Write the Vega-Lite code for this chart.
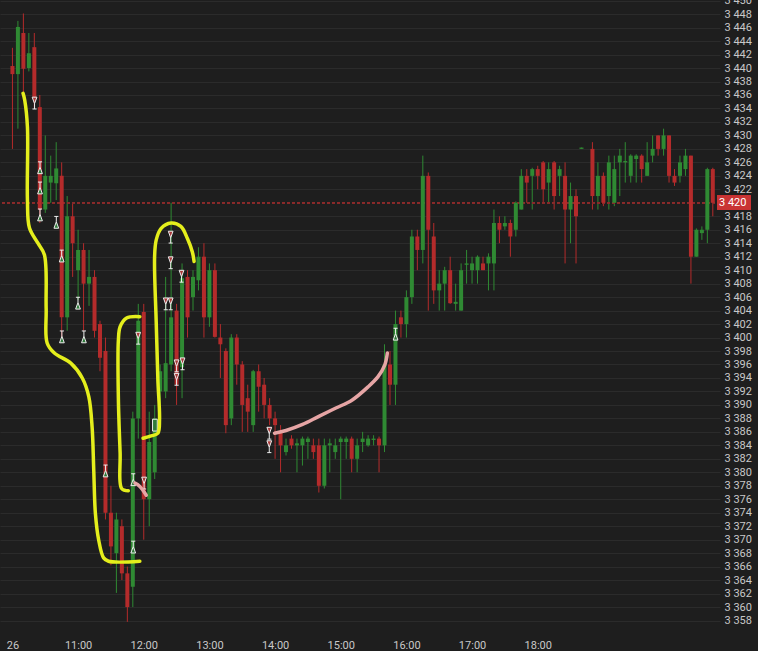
{
  "$schema": "https://vega.github.io/schema/vega-lite/v6.json",
  "width": 720,
  "height": 634,
  "autosize": {"type": "none"},
  "padding": {"left": 0, "top": 0, "right": 38, "bottom": 17},
  "background": "#1e1e1e",
  "config": {
    "view": {"stroke": null, "fill": "#1e1e1e"},
    "font": "Roboto",
    "axisY": {"grid": true, "gridColor": "#2b2b2b", "gridWidth": 1, "domain": false, "ticks": false, "labelPadding": 4,
      "labelColor": "#c8c8c8", "labelFontSize": 11, "labelFont": "Roboto", "labelOverlap": false, "labelBound": false, "title": null, "zindex": 0},
    "axisX": {"grid": false, "domain": false, "ticks": false, "labelPadding": 5,
      "labelColor": "#c8c8c8", "labelFontSize": 11, "labelFont": "Roboto", "labelOverlap": false, "labelBound": false, "title": null}
  },
  "datasets": {
    "candles": [
      {"m":0,"o":3440.3,"h":3443,"l":3428,"c":3439.1},
      {"m":5,"o":3439.1,"h":3447,"l":3431,"c":3446.1},
      {"m":10,"o":3445.2,"h":3448.1,"l":3436,"c":3439.9},
      {"m":15,"o":3440,"h":3445.2,"l":3439.5,"c":3442.2},
      {"m":20,"o":3443.1,"h":3445.2,"l":3434,"c":3435.7},
      {"m":25,"o":3434.2,"h":3436,"l":3417,"c":3419},
      {"m":30,"o":3419,"h":3430,"l":3418.5,"c":3424},
      {"m":35,"o":3423,"h":3427,"l":3420,"c":3424},
      {"m":40,"o":3422.9,"h":3429,"l":3420.4,"c":3425.1},
      {"m":45,"o":3424,"h":3426,"l":3400,"c":3403},
      {"m":50,"o":3403,"h":3421,"l":3401,"c":3418},
      {"m":55,"o":3418,"h":3420,"l":3409,"c":3414},
      {"m":60,"o":3410,"h":3416,"l":3405.6,"c":3413},
      {"m":65,"o":3413,"h":3414,"l":3401,"c":3408},
      {"m":70,"o":3408,"h":3413,"l":3404.7,"c":3409},
      {"m":75,"o":3409,"h":3410,"l":3400,"c":3401},
      {"m":80,"o":3402,"h":3402.5,"l":3395,"c":3397},
      {"m":85,"o":3398,"h":3400,"l":3373,"c":3374},
      {"m":90,"o":3374,"h":3378,"l":3366.2,"c":3369},
      {"m":95,"o":3368,"h":3374,"l":3362.1,"c":3373},
      {"m":100,"o":3372,"h":3373,"l":3364,"c":3365},
      {"m":105,"o":3365,"h":3366,"l":3357.8,"c":3360},
      {"m":110,"o":3363,"h":3389,"l":3360,"c":3388},
      {"m":115,"o":3388,"h":3405,"l":3385,"c":3402.5},
      {"m":120,"o":3403.8,"h":3405,"l":3370,"c":3376},
      {"m":125,"o":3376,"h":3389,"l":3372,"c":3384.5},
      {"m":130,"o":3380,"h":3390,"l":3379,"c":3388},
      {"m":135,"o":3392,"h":3396,"l":3390,"c":3395},
      {"m":140,"o":3392,"h":3409,"l":3391,"c":3396.2},
      {"m":145,"o":3396,"h":3420,"l":3395,"c":3403},
      {"m":150,"o":3404,"h":3405,"l":3390,"c":3393},
      {"m":155,"o":3395.6,"h":3411,"l":3391,"c":3408.8},
      {"m":160,"o":3409,"h":3410,"l":3400,"c":3403},
      {"m":165,"o":3406,"h":3410,"l":3404,"c":3409},
      {"m":170,"o":3408.5,"h":3413.4,"l":3407,"c":3412},
      {"m":175,"o":3412,"h":3414,"l":3400,"c":3403},
      {"m":180,"o":3403,"h":3411,"l":3401.6,"c":3410},
      {"m":185,"o":3410,"h":3411,"l":3400,"c":3400.1},
      {"m":190,"o":3400,"h":3402,"l":3394,"c":3399},
      {"m":195,"o":3398,"h":3398.4,"l":3385.8,"c":3387},
      {"m":200,"o":3388,"h":3400.5,"l":3387,"c":3400},
      {"m":205,"o":3400,"h":3400.5,"l":3393,"c":3396},
      {"m":210,"o":3396,"h":3396.5,"l":3386,"c":3390},
      {"m":215,"o":3391,"h":3393,"l":3386,"c":3389},
      {"m":220,"o":3387,"h":3395.2,"l":3386,"c":3395},
      {"m":225,"o":3395,"h":3396,"l":3389,"c":3392.7},
      {"m":230,"o":3393,"h":3394,"l":3388,"c":3390},
      {"m":235,"o":3390,"h":3391,"l":3387,"c":3388},
      {"m":240,"o":3388,"h":3389,"l":3382,"c":3387},
      {"m":245,"o":3386,"h":3387,"l":3380,"c":3384},
      {"m":250,"o":3383,"h":3385,"l":3382.5,"c":3384},
      {"m":255,"o":3385,"h":3385.5,"l":3383.5,"c":3384},
      {"m":260,"o":3384,"h":3385,"l":3380,"c":3384.3},
      {"m":265,"o":3384,"h":3385.3,"l":3381,"c":3385},
      {"m":270,"o":3384.5,"h":3385.3,"l":3382,"c":3385},
      {"m":275,"o":3384,"h":3385,"l":3382,"c":3383},
      {"m":280,"o":3384,"h":3385,"l":3377,"c":3378},
      {"m":285,"o":3378,"h":3385,"l":3377.6,"c":3384},
      {"m":290,"o":3384,"h":3385,"l":3380,"c":3384.3},
      {"m":295,"o":3383,"h":3385,"l":3382,"c":3384},
      {"m":300,"o":3384.5,"h":3385.3,"l":3376,"c":3385},
      {"m":305,"o":3384.5,"h":3385.3,"l":3382,"c":3385},
      {"m":310,"o":3385,"h":3385.3,"l":3380,"c":3382},
      {"m":315,"o":3382,"h":3385,"l":3380,"c":3384},
      {"m":320,"o":3384.5,"h":3386,"l":3383,"c":3385},
      {"m":325,"o":3384,"h":3385.5,"l":3383.8,"c":3385},
      {"m":330,"o":3384.8,"h":3385.5,"l":3384,"c":3385},
      {"m":335,"o":3385,"h":3385.3,"l":3380,"c":3384},
      {"m":340,"o":3384,"h":3399,"l":3383,"c":3396},
      {"m":345,"o":3396,"h":3398,"l":3390,"c":3393},
      {"m":350,"o":3393,"h":3404,"l":3390,"c":3402},
      {"m":355,"o":3403,"h":3404,"l":3400,"c":3402},
      {"m":360,"o":3402,"h":3407,"l":3400,"c":3406},
      {"m":365,"o":3406,"h":3416,"l":3405,"c":3415},
      {"m":370,"o":3415,"h":3416,"l":3410,"c":3413},
      {"m":375,"o":3413,"h":3427,"l":3411,"c":3424},
      {"m":380,"o":3424,"h":3424.5,"l":3404,"c":3416},
      {"m":385,"o":3415,"h":3417,"l":3405,"c":3407},
      {"m":390,"o":3407,"h":3410,"l":3404,"c":3408},
      {"m":395,"o":3408,"h":3410.5,"l":3404,"c":3410},
      {"m":400,"o":3410,"h":3412,"l":3405,"c":3405.1},
      {"m":405,"o":3405,"h":3408,"l":3404,"c":3405.3},
      {"m":410,"o":3404,"h":3411,"l":3404,"c":3410},
      {"m":415,"o":3410.8,"h":3413,"l":3408,"c":3411},
      {"m":420,"o":3410,"h":3412,"l":3408,"c":3411},
      {"m":425,"o":3410,"h":3412.2,"l":3408,"c":3412},
      {"m":430,"o":3411,"h":3412,"l":3410,"c":3410},
      {"m":435,"o":3411,"h":3412.5,"l":3407,"c":3412},
      {"m":440,"o":3411,"h":3419,"l":3407,"c":3417},
      {"m":445,"o":3417,"h":3418,"l":3414,"c":3416},
      {"m":450,"o":3416.5,"h":3418,"l":3416,"c":3417},
      {"m":455,"o":3417,"h":3417.5,"l":3412,"c":3415},
      {"m":460,"o":3416,"h":3420.2,"l":3415,"c":3420},
      {"m":465,"o":3419,"h":3425,"l":3419,"c":3424},
      {"m":470,"o":3424,"h":3425,"l":3420,"c":3423},
      {"m":475,"o":3424,"h":3425.2,"l":3419,"c":3425},
      {"m":480,"o":3425,"h":3425.5,"l":3422,"c":3424},
      {"m":485,"o":3426,"h":3426.2,"l":3420,"c":3422},
      {"m":490,"o":3423,"h":3426,"l":3420,"c":3425},
      {"m":495,"o":3426,"h":3426.2,"l":3419,"c":3421},
      {"m":500,"o":3424,"h":3425.5,"l":3421,"c":3425},
      {"m":505,"o":3424,"h":3426,"l":3411,"c":3419},
      {"m":510,"o":3419,"h":3423,"l":3414,"c":3421},
      {"m":515,"o":3421,"h":3422,"l":3411,"c":3418},
      {"m":520,"o":3428,"h":3428.2,"l":3428,"c":3428.2},
      {"m":530,"o":3428,"h":3429,"l":3419,"c":3421},
      {"m":535,"o":3421,"h":3426,"l":3419,"c":3424},
      {"m":540,"o":3424,"h":3424.5,"l":3419.5,"c":3420},
      {"m":545,"o":3421,"h":3427,"l":3419,"c":3426},
      {"m":550,"o":3420,"h":3427,"l":3419.5,"c":3425},
      {"m":555,"o":3426,"h":3428,"l":3421,"c":3427},
      {"m":560,"o":3426,"h":3429,"l":3423,"c":3426.2},
      {"m":565,"o":3424,"h":3427.2,"l":3423,"c":3427},
      {"m":570,"o":3426.5,"h":3427.2,"l":3423,"c":3427},
      {"m":575,"o":3427,"h":3427.2,"l":3423,"c":3425},
      {"m":580,"o":3424,"h":3429,"l":3424,"c":3426},
      {"m":585,"o":3427,"h":3430,"l":3426,"c":3428},
      {"m":590,"o":3430,"h":3430,"l":3427,"c":3428},
      {"m":595,"o":3428,"h":3431,"l":3427,"c":3430},
      {"m":600,"o":3430,"h":3430,"l":3423,"c":3424},
      {"m":605,"o":3424,"h":3425,"l":3422.5,"c":3423},
      {"m":610,"o":3424,"h":3427,"l":3423,"c":3426},
      {"m":615,"o":3425,"h":3428,"l":3424,"c":3427},
      {"m":620,"o":3427,"h":3427,"l":3408,"c":3412},
      {"m":625,"o":3412,"h":3416.2,"l":3412,"c":3416},
      {"m":630,"o":3415.5,"h":3416.5,"l":3414.5,"c":3416},
      {"m":635,"o":3416,"h":3425.2,"l":3414,"c":3425},
      {"m":640,"o":3425,"h":3425.2,"l":3418,"c":3420}
    ],
    "marks": [
      {"m":20.2,"p":3434.8,"t":"down"},
      {"m":25.2,"p":3425.2,"t":"up"},
      {"m":25.2,"p":3422.2,"t":"up"},
      {"m":25.2,"p":3418.2,"t":"up"},
      {"m":40.1,"p":3417.1,"t":"up"},
      {"m":45.0,"p":3412.1,"t":"up"},
      {"m":59.9,"p":3405.1,"t":"up"},
      {"m":45.2,"p":3400.1,"t":"up"},
      {"m":65.3,"p":3400.1,"t":"up"},
      {"m":85.1,"p":3380.2,"t":"up"},
      {"m":110.4,"p":3378.9,"t":"up"},
      {"m":110.4,"p":3368.9,"t":"up"},
      {"m":114.9,"p":3399.9,"t":"down"},
      {"m":120.3,"p":3378.4,"t":"down"},
      {"m":130.2,"p":3387.0,"t":"box"},
      {"m":144.6,"p":3414.9,"t":"down"},
      {"m":144.6,"p":3411.1,"t":"down"},
      {"m":140.1,"p":3405.0,"t":"down"},
      {"m":144.6,"p":3405.0,"t":"down"},
      {"m":154.5,"p":3409.1,"t":"down"},
      {"m":150.0,"p":3395.8,"t":"down"},
      {"m":150.0,"p":3393.8,"t":"down"},
      {"m":155.4,"p":3396.1,"t":"down"},
      {"m":234.7,"p":3385.8,"t":"down"},
      {"m":234.7,"p":3383.8,"t":"down"},
      {"m":350.1,"p":3400.5,"t":"up"}
    ],
    "paths": [
      {"g":"y1","k":0,"m":9.7,"p":3436.25},
      {"g":"y1","k":1,"m":11.2,"p":3435.26},
      {"g":"y1","k":2,"m":13.7,"p":3431.25},
      {"g":"y1","k":3,"m":13.7,"p":3420.4},
      {"g":"y1","k":4,"m":15.5,"p":3416.3},
      {"g":"y1","k":5,"m":23.3,"p":3414.0},
      {"g":"y1","k":6,"m":29.2,"p":3412.3},
      {"g":"y1","k":7,"m":30.8,"p":3404.4},
      {"g":"y1","k":8,"m":31.7,"p":3399.2},
      {"g":"y1","k":9,"m":38.3,"p":3397.7},
      {"g":"y1","k":10,"m":53.3,"p":3396.2},
      {"g":"y1","k":11,"m":63.8,"p":3394.0},
      {"g":"y1","k":12,"m":69.8,"p":3391.2},
      {"g":"y1","k":13,"m":72.8,"p":3386.7},
      {"g":"y1","k":14,"m":74.3,"p":3380.3},
      {"g":"y1","k":15,"m":75.8,"p":3373.9},
      {"g":"y1","k":16,"m":78.8,"p":3369.95},
      {"g":"y1","k":17,"m":83.3,"p":3367.3},
      {"g":"y1","k":18,"m":87.8,"p":3366.8},
      {"g":"y1","k":19,"m":116.4,"p":3366.8},
      {"g":"y2","k":0,"m":105.9,"p":3377.27},
      {"g":"y2","k":1,"m":99.8,"p":3377.6},
      {"g":"y2","k":2,"m":98.4,"p":3382.9},
      {"g":"y2","k":3,"m":96.8,"p":3391.0},
      {"g":"y2","k":4,"m":96.8,"p":3399.6},
      {"g":"y2","k":5,"m":98.4,"p":3401.6},
      {"g":"y2","k":6,"m":104.3,"p":3402.9},
      {"g":"y2","k":7,"m":116.4,"p":3403.1},
      {"g":"y3","k":0,"m":119.4,"p":3385.05},
      {"g":"y3","k":1,"m":126.8,"p":3385.4},
      {"g":"y3","k":2,"m":132.9,"p":3385.8},
      {"g":"y3","k":3,"m":134.4,"p":3387.8},
      {"g":"y3","k":4,"m":132.9,"p":3393.7},
      {"g":"y3","k":5,"m":131.4,"p":3402.2},
      {"g":"y3","k":6,"m":129.9,"p":3412.0},
      {"g":"y3","k":7,"m":131.4,"p":3414.5},
      {"g":"y3","k":8,"m":135.9,"p":3416.2},
      {"g":"y3","k":9,"m":144.9,"p":3417.0},
      {"g":"y3","k":10,"m":153.9,"p":3416.5},
      {"g":"y3","k":11,"m":159.9,"p":3414.7},
      {"g":"y3","k":12,"m":164.4,"p":3412.7},
      {"g":"y3","k":13,"m":166.0,"p":3411.3},
      {"g":"p1","k":0,"m":111.9,"p":3378.4},
      {"g":"p1","k":1,"m":116.4,"p":3377.9},
      {"g":"p1","k":2,"m":122.3,"p":3376.6},
      {"g":"p2","k":0,"m":239.5,"p":3385.8},
      {"g":"p2","k":1,"m":250.0,"p":3386.2},
      {"g":"p2","k":2,"m":265.1,"p":3387.1},
      {"g":"p2","k":3,"m":280.0,"p":3388.3},
      {"g":"p2","k":4,"m":295.1,"p":3389.5},
      {"g":"p2","k":5,"m":310.2,"p":3390.7},
      {"g":"p2","k":6,"m":325.1,"p":3392.7},
      {"g":"p2","k":7,"m":334.1,"p":3394.2},
      {"g":"p2","k":8,"m":340.2,"p":3395.9},
      {"g":"p2","k":9,"m":342.6,"p":3397.7}
    ]
  },
  "layer": [
    {
      "data": {"name": "candles"},
      "mark": {"type": "rule", "strokeWidth": 1},
      "encoding": {
        "x": {"field": "m", "type": "quantitative",
          "scale": {"domain": [-6.8, 642], "zero": false, "nice": false},
          "axis": {"values": [0, 60, 120, 180, 240, 300, 360, 420, 480],
            "labelExpr": "datum.value == 0 ? '26' : (10 + datum.value / 60) + ':00'"}
        },
        "y": {"field": "l", "type": "quantitative",
          "scale": {"domain": [3356, 3450.1], "zero": false, "nice": false},
          "axis": {"orient": "right",
            "values": [3358,3360,3362,3364,3366,3368,3370,3372,3374,3376,3378,3380,3382,3384,3386,3388,3390,3392,3394,3396,3398,3400,3402,3404,3406,3408,3410,3412,3414,3416,3418,3422,3424,3426,3428,3430,3432,3434,3436,3438,3440,3442,3444,3446,3448,3450],
            "labelExpr": "replace(format(datum.value, ','), ',', ' ')"}
        },
        "y2": {"field": "h"},
        "color": {"condition": {"test": "datum.c >= datum.o", "value": "#2f8a33"}, "value": "#b42b2b"}
      }
    },
    {
      "data": {"name": "candles"},
      "mark": {"type": "rule", "color": "#8a2c2c", "strokeDash": [3, 2], "strokeWidth": 1},
      "encoding": {
        "y": {"datum": 3420, "type": "quantitative",
          "axis": {"orient": "right",
            "values": [3358,3360,3362,3364,3366,3368,3370,3372,3374,3376,3378,3380,3382,3384,3386,3388,3390,3392,3394,3396,3398,3400,3402,3404,3406,3408,3410,3412,3414,3416,3418,3422,3424,3426,3428,3430,3432,3434,3436,3438,3440,3442,3444,3446,3448,3450],
            "labelExpr": "replace(format(datum.value, ','), ',', ' ')"}
        }
      }
    },
    {
      "data": {"name": "candles"},
      "mark": {"type": "bar", "width": 4},
      "encoding": {
        "x": {"field": "m", "type": "quantitative",
          "axis": {"values": [0, 60, 120, 180, 240, 300, 360, 420, 480],
            "labelExpr": "datum.value == 0 ? '26' : (10 + datum.value / 60) + ':00'"}
        },
        "y": {"field": "o", "type": "quantitative",
          "axis": {"orient": "right",
            "values": [3358,3360,3362,3364,3366,3368,3370,3372,3374,3376,3378,3380,3382,3384,3386,3388,3390,3392,3394,3396,3398,3400,3402,3404,3406,3408,3410,3412,3414,3416,3418,3422,3424,3426,3428,3430,3432,3434,3436,3438,3440,3442,3444,3446,3448,3450],
            "labelExpr": "replace(format(datum.value, ','), ',', ' ')"}
        },
        "y2": {"field": "c"},
        "color": {"condition": {"test": "datum.c >= datum.o", "value": "#2f8a33"}, "value": "#b42b2b"}
      }
    },
    {
      "data": {"name": "marks"},
      "mark": {"type": "point", "filled": true, "stroke": "#eeeeee", "strokeWidth": 1, "size": 140, "opacity": 1},
      "encoding": {
        "x": {"field": "m", "type": "quantitative",
          "axis": {"values": [0, 60, 120, 180, 240, 300, 360, 420, 480],
            "labelExpr": "datum.value == 0 ? '26' : (10 + datum.value / 60) + ':00'"}
        },
        "y": {"field": "p", "type": "quantitative",
          "axis": {"orient": "right",
            "values": [3358,3360,3362,3364,3366,3368,3370,3372,3374,3376,3378,3380,3382,3384,3386,3388,3390,3392,3394,3396,3398,3400,3402,3404,3406,3408,3410,3412,3414,3416,3418,3422,3424,3426,3428,3430,3432,3434,3436,3438,3440,3442,3444,3446,3448,3450],
            "labelExpr": "replace(format(datum.value, ','), ',', ' ')"}
        },
        "shape": {"field": "t", "type": "nominal",
          "scale": {"domain": ["up", "down", "box"],
            "range": ["M-0.35,-1H0.35M0,-1V-0.1M0,-0.1L-0.4,1H0.4Z", "M-0.4,-1H0.4L0,0.1ZM0,0.1V1M-0.35,1H0.35", "M-0.4,-1H0.4V1H-0.4Z"]},
          "legend": null},
        "fill": {"field": "t", "type": "nominal",
          "scale": {"domain": ["up", "down", "box"], "range": ["#2f7a3a", "#a83a3a", "#2f7a3a"]},
          "legend": null}
      }
    },
    {
      "data": {"name": "paths"},
      "mark": {"type": "line", "strokeWidth": 3.5, "interpolate": "catmull-rom", "strokeCap": "round", "strokeJoin": "round"},
      "encoding": {
        "x": {"field": "m", "type": "quantitative",
          "axis": {"values": [0, 60, 120, 180, 240, 300, 360, 420, 480],
            "labelExpr": "datum.value == 0 ? '26' : (10 + datum.value / 60) + ':00'"}
        },
        "y": {"field": "p", "type": "quantitative",
          "axis": {"orient": "right",
            "values": [3358,3360,3362,3364,3366,3368,3370,3372,3374,3376,3378,3380,3382,3384,3386,3388,3390,3392,3394,3396,3398,3400,3402,3404,3406,3408,3410,3412,3414,3416,3418,3422,3424,3426,3428,3430,3432,3434,3436,3438,3440,3442,3444,3446,3448,3450],
            "labelExpr": "replace(format(datum.value, ','), ',', ' ')"}
        },
        "order": {"field": "k", "type": "quantitative"},
        "color": {"field": "g", "type": "nominal",
          "scale": {"domain": ["y1", "y2", "y3", "p1", "p2"], "range": ["#e4ee1c", "#e4ee1c", "#e4ee1c", "#e6a5a5", "#e6a5a5"]},
          "legend": null}
      }
    },
    {
      "data": {"name": "candles"},
      "mark": {"type": "rect", "color": "#c93434", "xOffset": 2, "x2Offset": 36},
      "encoding": {
        "x": {"datum": 642, "type": "quantitative",
          "axis": {"values": [0, 60, 120, 180, 240, 300, 360, 420, 480],
            "labelExpr": "datum.value == 0 ? '26' : (10 + datum.value / 60) + ':00'"}
        },
        "x2": {"datum": 642},
        "y": {"datum": 3421.05, "type": "quantitative",
          "axis": {"orient": "right",
            "values": [3358,3360,3362,3364,3366,3368,3370,3372,3374,3376,3378,3380,3382,3384,3386,3388,3390,3392,3394,3396,3398,3400,3402,3404,3406,3408,3410,3412,3414,3416,3418,3422,3424,3426,3428,3430,3432,3434,3436,3438,3440,3442,3444,3446,3448,3450],
            "labelExpr": "replace(format(datum.value, ','), ',', ' ')"}
        },
        "y2": {"datum": 3418.95}
      }
    },
    {
      "data": {"values": [{"lab": "3 420"}]},
      "mark": {"type": "text", "color": "#ffffff", "align": "left", "baseline": "middle", "dx": 4, "fontSize": 11, "font": "Roboto"},
      "encoding": {
        "x": {"datum": 642, "type": "quantitative",
          "axis": {"values": [0, 60, 120, 180, 240, 300, 360, 420, 480],
            "labelExpr": "datum.value == 0 ? '26' : (10 + datum.value / 60) + ':00'"}
        },
        "y": {"datum": 3420, "type": "quantitative",
          "axis": {"orient": "right",
            "values": [3358,3360,3362,3364,3366,3368,3370,3372,3374,3376,3378,3380,3382,3384,3386,3388,3390,3392,3394,3396,3398,3400,3402,3404,3406,3408,3410,3412,3414,3416,3418,3422,3424,3426,3428,3430,3432,3434,3436,3438,3440,3442,3444,3446,3448,3450],
            "labelExpr": "replace(format(datum.value, ','), ',', ' ')"}
        },
        "text": {"field": "lab"}
      }
    }
  ]
}
